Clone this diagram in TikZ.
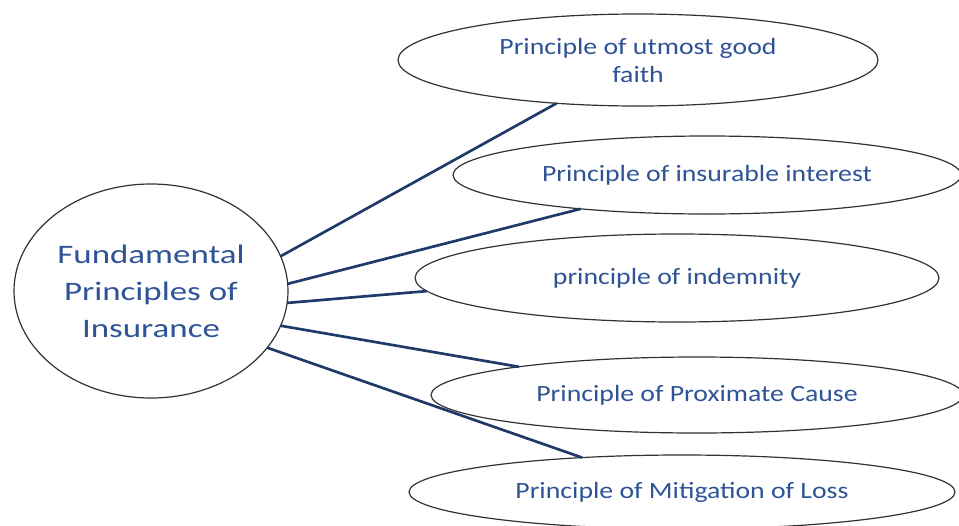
\documentclass[tikz,border=0pt]{standalone}
\usepackage{fontspec}
\setmainfont{Carlito}
\newfontfamily\leaffont[FakeStretch=1.19]{Carlito}
\newfontfamily\hubfont[FakeStretch=1.31]{Carlito}
\usetikzlibrary{shapes.geometric}
\definecolor{txtblue}{RGB}{47,84,150}
\definecolor{linknavy}{RGB}{31,58,104}
\definecolor{rimgray}{RGB}{50,50,50}
\tikzset{
  oval/.style={ellipse, draw=rimgray, line width=0.9pt, fill=white, inner sep=0pt, outer sep=0pt, text=txtblue, align=center},
  leaftext/.style={font=\leaffont\fontsize{17.5}{21}\selectfont},
  hubtext/.style={font=\hubfont\fontsize{20}{27.75}\selectfont},
  link/.style={draw=linknavy, line width=2pt}
}
\begin{document}
\begin{tikzpicture}[x=0.75pt,y=-0.75pt]
\useasboundingbox (0,0) rectangle (959,525);
\clip (0,0) rectangle (959,525);
\node[oval, hubtext, minimum width=205.5pt, minimum height=160.5pt] (hub) at (151,291) {Fundamental\\Principles of\\Insurance};
\node[oval, leaftext, minimum width=360pt, minimum height=69pt] (faith) at (638,60) {Principle of utmost good\\faith};
\node[oval, leaftext, minimum width=381pt, minimum height=58.5pt] (interest) at (707,175) {Principle of insurable interest};
\node[oval, leaftext, minimum width=393pt, minimum height=66pt] (indemnity) at (677,278) {principle of indemnity};
\node[oval, leaftext, minimum width=399pt, minimum height=57pt] (cause) at (697,395) {Principle of Proximate Cause};
\node[oval, leaftext, minimum width=409.5pt, minimum height=55.5pt] (loss) at (682,492) {Principle of Mitigation of Loss};
\draw[link] (hub.15) -- (faith.208.5);
\draw[link] (hub.3) -- (interest.195);
\draw[link] (hub.-5) -- (indemnity.183.75);
\draw[link] (hub.-15) -- (cause.171.5);
\draw[link] (hub.-26) -- (loss.161.4);
\end{tikzpicture}
\end{document}
